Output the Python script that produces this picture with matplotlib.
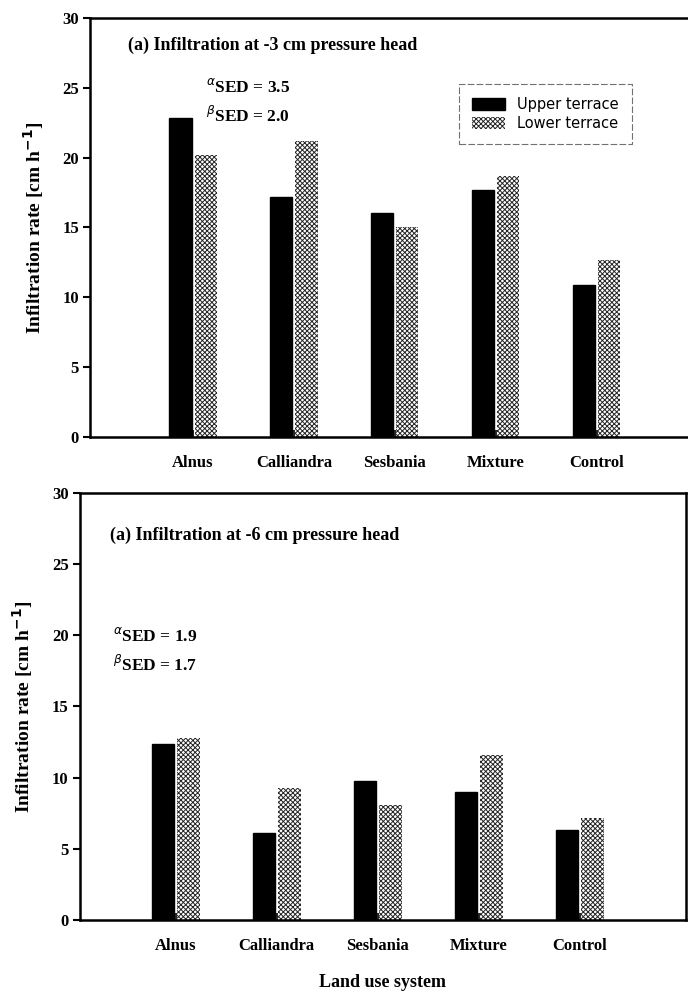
import matplotlib
matplotlib.use("Agg")
import matplotlib.pyplot as plt
import numpy as np

categories = ["Alnus", "Calliandra", "Sesbania", "Mixture", "Control"]
series_names = ["Upper terrace", "Lower terrace"]
upper_3 = [22.8, 17.2, 16.0, 17.7, 10.9]
lower_3 = [20.2, 21.2, 15.0, 18.7, 12.7]
upper_6 = [12.4, 6.1, 9.8, 9.0, 6.3]
lower_6 = [12.8, 9.3, 8.1, 11.6, 7.2]
yticks = [0, 5, 10, 15, 20, 25, 30]
titles = ["(a) Infiltration at -3 cm pressure head", "(a) Infiltration at -6 cm pressure head"]
sed_top = [r"$^{\alpha}$SED = 3.5", r"$^{\beta}$SED = 2.0"]
sed_bot = [r"$^{\alpha}$SED = 1.9", r"$^{\beta}$SED = 1.7"]

plt.rcParams['hatch.linewidth'] = 0.7
serif = "Liberation Serif"

fig = plt.figure(figsize=(6.88, 9.91), dpi=100)
ax1 = fig.add_axes([0.131, 0.559, 0.89, 0.423])
ax2 = fig.add_axes([0.116, 0.0716, 0.881, 0.431])

x = np.arange(1, len(categories) + 1)
w = 0.22
off = 0.125

def draw(ax, up, lo, title, sed, sedpos, titlepos, xlim, legend=False):
    ax.bar(x - off, up, w, color="black", edgecolor="black", label=series_names[0])
    ax.bar(x + off, lo, w, color="white", edgecolor="0.15", hatch="xxxxxxx",
           linewidth=0, label=series_names[1])
    ax.set_xlim(*xlim)
    ax.set_ylim(0, 30)
    ax.set_yticks(yticks)
    ax.set_yticklabels([str(t) for t in yticks], fontfamily=serif, fontweight="bold", fontsize=12)
    ax.set_xticks(x)
    ax.set_xticklabels(categories, fontfamily=serif, fontweight="bold", fontsize=12)
    ax.tick_params(axis="x", direction="in", length=5, width=1.2, pad=13)
    ax.tick_params(axis="y", direction="out", length=5, width=1.5, pad=3)
    for s in ax.spines.values():
        s.set_linewidth(1.8)
    ax.set_ylabel(r"Infiltration rate [cm h$^{\mathbf{-1}}$]", fontfamily=serif,
                  fontweight="bold", fontsize=14, labelpad=12)
    ax.text(titlepos[0], titlepos[1], title, transform=ax.transAxes, fontfamily=serif,
            fontweight="bold", fontsize=13, va="center", ha="left")
    ax.text(sedpos[0], sedpos[1], sed[0], transform=ax.transAxes, fontfamily=serif,
            fontweight="bold", fontsize=12.5, va="center", ha="left")
    ax.text(sedpos[0], sedpos[1] - 0.068, sed[1], transform=ax.transAxes, fontfamily=serif,
            fontweight="bold", fontsize=12.5, va="center", ha="left")
    if legend:
        leg = ax.legend(loc="upper left", bbox_to_anchor=(0.59, 0.86), frameon=True,
                        fancybox=False, edgecolor="0.3", fontsize=10.5, handlelength=2.3,
                        handleheight=0.9, borderpad=0.9, labelspacing=0.3)
        leg.get_frame().set_linestyle((0, (6, 2)))
        leg.get_frame().set_linewidth(0.8)

draw(ax1, upper_3, lower_3, titles[0], sed_top, (0.19, 0.835), (0.062, 0.935), (-0.02, 6.05), legend=True)
draw(ax2, upper_6, lower_6, titles[1], sed_bot, (0.055, 0.665), (0.05, 0.9), (0.05, 6.05))
ax2.set_xlabel("Land use system", fontfamily=serif, fontweight="bold", fontsize=13, labelpad=14)

fig.savefig("out.png", dpi=100)
